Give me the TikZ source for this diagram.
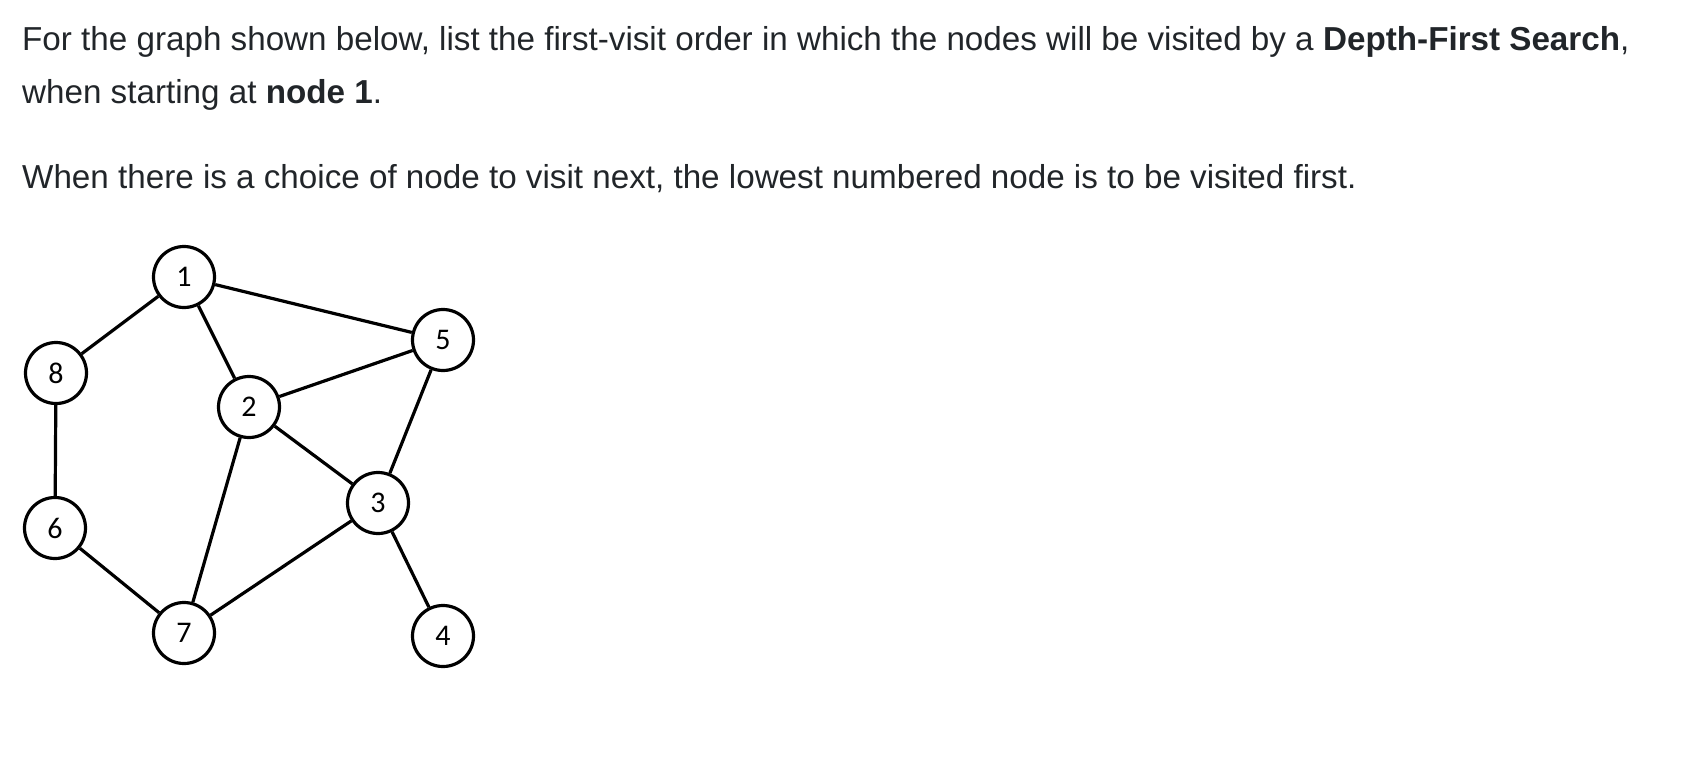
\documentclass[tikz,border=0pt]{standalone}
\usepackage{fontspec}
\setmainfont{Liberation Sans}
\newfontfamily\digitfont{Carlito}
\definecolor{txt}{RGB}{33,37,41}
\begin{document}
\begin{tikzpicture}[x=1pt,y=-1pt,
  qtext/.style={anchor=base west,inner sep=0pt,text=txt,font=\fontsize{33.2}{40}\selectfont},
  gnode/.style={circle,draw=black,line width=3.2pt,minimum size=61pt,inner sep=0pt,fill=white,font=\digitfont\fontsize{30}{32}\selectfont},
  gedge/.style={draw=black,line width=3.2pt}]
\useasboundingbox (0,0) rectangle (1682,758);
\node[qtext] (l1) at (22,50) {For the graph shown below, list the first-visit order in which the nodes will be visited by a \textbf{Depth-First Search},};
\node[qtext] (l2) at (22,103) {when starting at \textbf{node 1}.};
\node[qtext] (l3) at (22,188) {When there is a choice of node to visit next, the lowest numbered node is to be visited first.};
\node[gnode] (n1) at (184,277) {1};
\node[gnode] (n8) at (56,373) {8};
\node[gnode] (n5) at (443,340) {5};
\node[gnode] (n2) at (249,407) {2};
\node[gnode] (n3) at (378,503) {3};
\node[gnode] (n6) at (55,528) {6};
\node[gnode] (n7) at (184,633) {7};
\node[gnode] (n4) at (443,636) {4};
\path[gedge] (n1) -- (n8);
\path[gedge] (n1) -- (n2);
\path[gedge] (n1) -- (n5);
\path[gedge] (n2) -- (n5);
\path[gedge] (n2) -- (n3);
\path[gedge] (n2) -- (n7);
\path[gedge] (n5) -- (n3);
\path[gedge] (n3) -- (n7);
\path[gedge] (n3) -- (n4);
\path[gedge] (n8) -- (n6);
\path[gedge] (n6) -- (n7);
\end{tikzpicture}
\end{document}
